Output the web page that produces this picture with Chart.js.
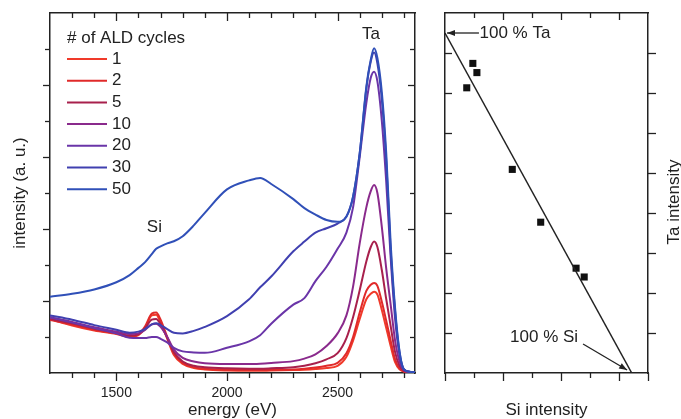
<!DOCTYPE html>
<html><head><meta charset="utf-8">
<script src="https://cdn.jsdelivr.net/npm/chart.js@4.4.0/dist/chart.umd.min.js"></script>
<style>
html,body{margin:0;padding:0;background:#fff;width:681px;height:419px;overflow:hidden}
#c1{position:absolute;left:0;top:0}
#c2{position:absolute;left:430px;top:0}
</style></head><body>
<canvas id="c1" width="430" height="419"></canvas>
<canvas id="c2" width="251" height="419"></canvas>
<script>
// ---------- data: left panel (spectra) ----------
const energy = [1200,1300,1400,1500,1560,1600,1630,1660,1680,1700,1730,1760,1800,1850,1900,2000,2100,2150,2200,2300,2350,2400,2450,2500,2540,2570,2600,2630,2650,2665,2680,2700,2720,2740,2760,2780,2800,2830,2850];
const cycles = ['1','2','5','10','20','30','50'];
const cyc1  = [1.50,1.32,1.18,1.08,1.00,1.05,1.25,1.60,1.62,1.40,0.95,0.50,0.25,0.14,0.10,0.07,0.06,0.06,0.07,0.08,0.09,0.11,0.14,0.20,0.45,0.90,1.50,2.05,2.20,2.26,2.18,1.75,1.25,0.75,0.30,0.10,0.04,0.02,0.02];
const cyc2  = [1.47,1.35,1.20,1.10,1.02,1.08,1.30,1.65,1.68,1.48,1.00,0.55,0.28,0.16,0.12,0.09,0.08,0.08,0.09,0.10,0.12,0.15,0.20,0.28,0.55,1.00,1.68,2.28,2.45,2.50,2.42,1.98,1.45,0.90,0.38,0.13,0.04,0.02,0.02];
const cyc5  = [1.50,1.38,1.23,1.12,1.04,1.08,1.25,1.48,1.50,1.35,0.98,0.58,0.32,0.20,0.16,0.13,0.12,0.12,0.13,0.16,0.20,0.27,0.38,0.55,0.97,1.55,2.30,3.10,3.50,3.65,3.50,2.86,2.05,1.30,0.58,0.20,0.06,0.02,0.02];
const cyc10 = [1.55,1.42,1.27,1.15,1.08,1.10,1.20,1.35,1.37,1.28,1.00,0.65,0.42,0.32,0.27,0.25,0.25,0.26,0.28,0.33,0.40,0.52,0.75,1.10,1.60,2.40,3.60,4.60,5.05,5.22,5.00,4.06,2.90,1.90,0.90,0.32,0.08,0.03,0.02];
const cyc20 = [1.55,1.40,1.25,1.10,0.98,0.97,0.97,1.00,1.00,0.95,0.85,0.70,0.60,0.57,0.56,0.70,0.88,1.05,1.37,1.90,2.08,2.55,2.95,3.45,3.90,4.60,6.00,7.50,8.20,8.37,8.10,7.00,5.30,3.20,1.50,0.50,0.10,0.03,0.02];
const cyc30 = [1.60,1.48,1.33,1.20,1.12,1.15,1.22,1.35,1.38,1.33,1.22,1.12,1.10,1.17,1.28,1.58,2.05,2.38,2.68,3.38,3.65,3.90,4.02,4.15,4.35,4.90,6.10,7.90,8.65,8.90,8.60,7.60,5.90,3.40,1.70,0.58,0.10,0.03,0.02];
const cyc50 = [2.12,2.20,2.32,2.52,2.72,2.92,3.08,3.30,3.45,3.52,3.60,3.66,3.80,4.10,4.45,5.10,5.35,5.42,5.25,4.83,4.58,4.40,4.25,4.20,4.34,4.90,6.10,7.95,8.70,9.02,8.75,7.80,6.10,3.60,1.80,0.60,0.10,0.03,0.02];
const seriesColors = ['#f03a2a','#e02a2a','#a8204c','#8a2a8c','#6a35a8','#4040b0','#3050b8'];
const energyTickLabels = [1500,2000,2500];
const energyMinorTicks = [1300,1400,1500,1600,1700,1800,1900,2000,2100,2200,2300,2400,2500,2600,2700,2800];
const intensityTicks = [1,2,3,4,5,6,7,8,9];

// ---------- data: right panel ----------
const siIntensity = [0.75,0.96,1.10,2.32,3.30,4.52,4.80];
const taIntensity = [7.13,7.74,7.51,5.09,3.77,2.62,2.40];
const fitSi = [0, 6.44];
const fitTa = [8.5, 0];
const siTicks = [0,1,2,3,4,5,6,7];
const siTopTicks = [1,2,3,4,5,6];
const taTicks = [1,2,3,4,5,6,7,8];

const FONT = '"Liberation Sans", Arial, Helvetica, sans-serif';
const INK = '#222';

function tickPlugin(specs){
  return {id:'tickmarks', afterDraw(chart){
    const ctx = chart.ctx, a = chart.chartArea;
    ctx.save(); ctx.strokeStyle = INK; ctx.lineWidth = 1.3;
    for (const sp of specs){
      const sc = chart.scales[sp.scale];
      for (const v of sp.values){
        const p = Math.round(sc.getPixelForValue(v)) + 0.5;
        const len = sp.major(v) ? sp.majorLen : sp.minorLen;
        ctx.beginPath();
        if (sp.edge==='bottom'){ const b=a.bottom; ctx.moveTo(p,b); ctx.lineTo(p, b + (sp.out?len:-len)); }
        if (sp.edge==='top'){ const b=a.top; ctx.moveTo(p,b); ctx.lineTo(p, b + (sp.out?-len:len)); }
        if (sp.edge==='left'){ const b=a.left; ctx.moveTo(b,p); ctx.lineTo(b + (sp.out?-len:len), p); }
        if (sp.edge==='right'){ const b=a.right; ctx.moveTo(b,p); ctx.lineTo(b + (sp.out?len:-len), p); }
        ctx.stroke();
      }
    }
    ctx.restore();
  }};
}

const border = {display:true, color:INK, width:1.5};
const noGrid = () => ({display:false, drawTicks:false});

// ---------- left chart ----------
const allSeries = [cyc1,cyc2,cyc5,cyc10,cyc20,cyc30,cyc50];
const leftDatasets = allSeries.map((s,i)=>({
  label: cycles[i],
  data: energy.map((e,j)=>({x:e, y:s[j]})),
  borderColor: seriesColors[i],
  backgroundColor: seriesColors[i],
  borderWidth: 2,
  pointRadius: 0,
  cubicInterpolationMode: 'monotone',
  fill: false
})).reverse();

const legendPlugin = {id:'legendInside', afterDatasetsDraw(chart){
  const ctx = chart.ctx, a = chart.chartArea, xs = chart.scales.x, ys = chart.scales.y;
  ctx.save();
  ctx.font = '17px ' + FONT; ctx.fillStyle = INK; ctx.textBaseline = 'middle'; ctx.textAlign = 'left';
  const x0 = a.left + 17;
  ctx.fillText('# of ALD cycles', x0, a.top + 25);
  cycles.forEach((c,i)=>{
    const y = a.top + 46 + i*21.7;
    ctx.strokeStyle = seriesColors[i]; ctx.lineWidth = 2;
    ctx.beginPath(); ctx.moveTo(x0, y); ctx.lineTo(x0+40, y); ctx.stroke();
    ctx.fillText(c, x0+45, y);
  });
  ctx.textAlign = 'center';
  ctx.fillText('Si', xs.getPixelForValue(1672), ys.getPixelForValue(4.06));
  ctx.fillText('Ta', xs.getPixelForValue(2651), ys.getPixelForValue(9.42));
  ctx.restore();
}};

new Chart(document.getElementById('c1'), {
  type:'line',
  data:{datasets:leftDatasets},
  options:{
    responsive:false, animation:false, devicePixelRatio:1,
    layout:{padding:0},
    plugins:{legend:{display:false}, tooltip:{enabled:false}},
    scales:{
      x:{type:'linear', position:'bottom', min:1200, max:2850,
         afterFit(s){ s.height = 46; },
         afterBuildTicks(s){ s.ticks = energyTickLabels.map(v=>({value:v})); },
         grid:noGrid(), border:border,
         ticks:{display:true, autoSkip:false, maxRotation:0, minRotation:0,
                padding:12, color:INK, font:{family:FONT, size:14},
                callback:v=>String(v)},
         title:{display:true, text:'energy (eV)', color:INK, font:{family:FONT, size:17, lineHeight:1.0}, padding:0}},
      xt:{type:'linear', position:'top', min:1200, max:2850,
         afterFit(s){ s.height = 13; }, grid:noGrid(), border:border, ticks:{display:false}},
      y:{type:'linear', position:'left', min:0, max:10,
         afterFit(s){ s.width = 50; }, grid:noGrid(), border:border, ticks:{display:false},
         title:{display:true, text:'intensity (a. u.)', color:INK, font:{family:FONT, size:17}, padding:{top:10,bottom:0}}},
      yr:{type:'linear', position:'right', min:0, max:10,
         afterFit(s){ s.width = 15; }, grid:noGrid(), border:border, ticks:{display:false}}
    }
  },
  plugins:[legendPlugin, tickPlugin([
    {scale:'x', edge:'bottom', out:true, values:energyMinorTicks, major:v=>v%500===0, majorLen:8, minorLen:5},
    {scale:'x', edge:'top', out:false, values:energyMinorTicks, major:v=>v%500===0, majorLen:8, minorLen:5},
    {scale:'y', edge:'left', out:true, values:intensityTicks, major:v=>v%2===0, majorLen:7, minorLen:5},
    {scale:'y', edge:'right', out:false, values:intensityTicks, major:v=>v%2===0, majorLen:7, minorLen:5}
  ])]
});

// ---------- right chart ----------
function arrow(ctx, x1, y1, x2, y2){
  ctx.beginPath(); ctx.moveTo(x1,y1); ctx.lineTo(x2,y2); ctx.stroke();
  const ang = Math.atan2(y2-y1, x2-x1), L = 8, W = 3;
  ctx.beginPath();
  ctx.moveTo(x2, y2);
  ctx.lineTo(x2 - L*Math.cos(ang) + W*Math.sin(ang), y2 - L*Math.sin(ang) - W*Math.cos(ang));
  ctx.lineTo(x2 - L*Math.cos(ang) - W*Math.sin(ang), y2 - L*Math.sin(ang) + W*Math.cos(ang));
  ctx.closePath(); ctx.fill();
}
const annotPlugin = {id:'annot', afterDatasetsDraw(chart){
  const ctx = chart.ctx, xs = chart.scales.x, ys = chart.scales.y;
  ctx.save();
  ctx.fillStyle = INK; ctx.strokeStyle = INK; ctx.lineWidth = 1.3;
  ctx.font = '17px ' + FONT; ctx.textBaseline = 'middle';
  ctx.textAlign = 'left';
  ctx.fillText('100 % Ta', xs.getPixelForValue(1.19), ys.getPixelForValue(8.5));
  arrow(ctx, xs.getPixelForValue(1.17), ys.getPixelForValue(8.5), xs.getPixelForValue(0.07), ys.getPixelForValue(8.5));
  ctx.textAlign = 'right';
  ctx.fillText('100 % Si', xs.getPixelForValue(4.59), ys.getPixelForValue(0.9));
  arrow(ctx, xs.getPixelForValue(4.76), ys.getPixelForValue(0.725), xs.getPixelForValue(6.28), ys.getPixelForValue(0.075));
  ctx.textAlign = 'center';
  ctx.translate(244, 202); ctx.rotate(-Math.PI/2);
  ctx.fillText('Ta intensity', 0, 0);
  ctx.restore();
}};

new Chart(document.getElementById('c2'), {
  type:'scatter',
  data:{datasets:[
    {type:'line', data:fitSi.map((v,i)=>({x:v, y:fitTa[i]})), borderColor:INK, borderWidth:1.5, pointRadius:0, fill:false},
    {type:'scatter', data:siIntensity.map((v,i)=>({x:v, y:taIntensity[i]})), pointStyle:'rect', pointRadius:5,
     backgroundColor:'#111', borderColor:'#111', borderWidth:0}
  ]},
  options:{
    responsive:false, animation:false, devicePixelRatio:1,
    layout:{padding:0},
    plugins:{legend:{display:false}, tooltip:{enabled:false}},
    scales:{
      x:{type:'linear', position:'bottom', min:0, max:7,
         afterFit(s){ s.height = 46; }, grid:noGrid(), border:border, ticks:{display:false},
         title:{display:true, text:'Si intensity', color:INK, font:{family:FONT, size:17, lineHeight:1.0}, padding:0}},
      xt:{type:'linear', position:'top', min:0, max:7,
         afterFit(s){ s.height = 13; }, grid:noGrid(), border:border, ticks:{display:false}},
      y:{type:'linear', position:'left', min:0, max:9,
         afterFit(s){ s.width = 15; }, grid:noGrid(), border:border, ticks:{display:false}},
      yr:{type:'linear', position:'right', min:0, max:9,
         afterFit(s){ s.width = 33; }, grid:noGrid(), border:border, ticks:{display:false}}
    }
  },
  plugins:[annotPlugin, tickPlugin([
    {scale:'x', edge:'bottom', out:true, values:siTicks, major:v=>v%2===0 || v===7, majorLen:8, minorLen:5},
    {scale:'x', edge:'top', out:false, values:siTopTicks, major:v=>v%2===0, majorLen:7, minorLen:5},
    {scale:'y', edge:'left', out:false, values:taTicks, major:v=>true, majorLen:7, minorLen:7},
    {scale:'y', edge:'right', out:true, values:taTicks, major:v=>true, majorLen:8, minorLen:8}
  ])]
});
</script>
</body></html>
